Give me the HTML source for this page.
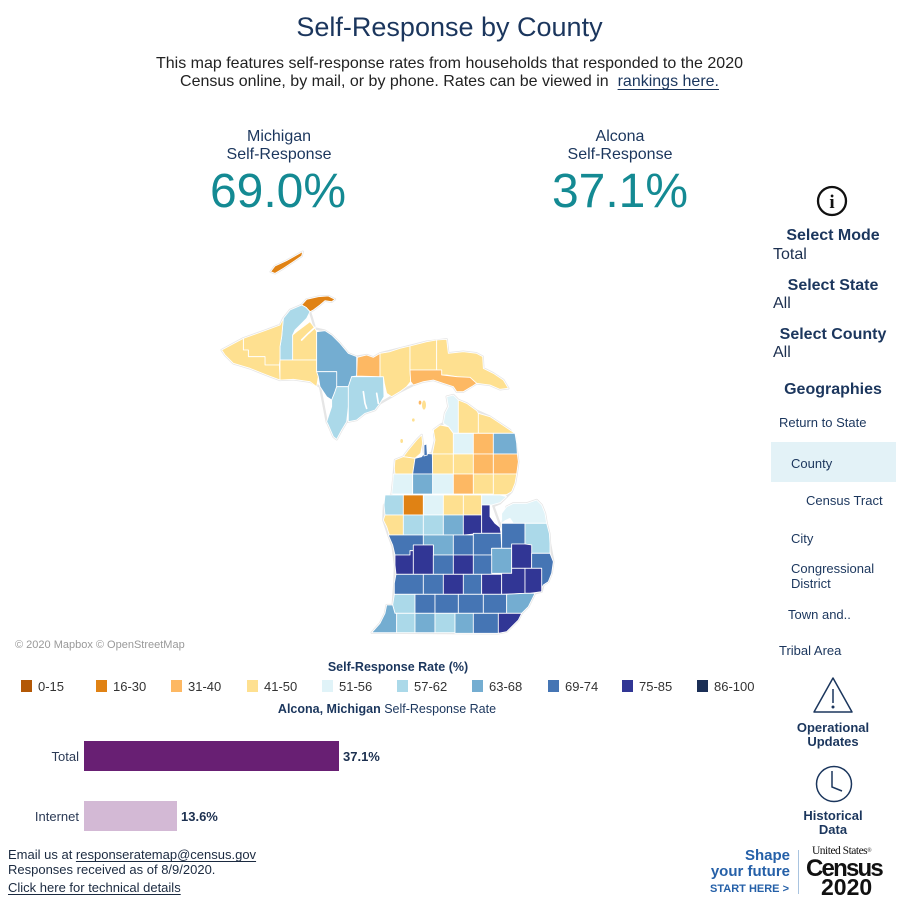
<!DOCTYPE html>
<html><head><meta charset="utf-8"><style>
html,body{margin:0;padding:0;background:#fff;}
body{width:899px;height:899px;position:relative;overflow:hidden;font-family:"Liberation Sans",Arial,sans-serif;color:#1b365d;}
.t{position:absolute;white-space:nowrap;}
.c{text-align:center;}
.lg{position:absolute;top:680px;width:11px;height:12px;}
.ll{position:absolute;top:680px;font-size:13px;line-height:13px;color:#333;}
</style></head><body>

<div class="t c" style="left:0;width:899px;top:13.8px;font-size:27px;line-height:27px;color:#1b365d;">Self-Response by County</div>
<div class="t c" style="left:0;width:899px;top:55.5px;font-size:16px;line-height:16px;color:#222;">This map features self-response rates from households that responded to the 2020</div>
<div class="t c" style="left:0;width:899px;top:74px;font-size:16px;line-height:16px;color:#222;">Census online, by mail, or by phone. Rates can be viewed in &nbsp;<span style="color:#1b365d;text-decoration:underline;text-underline-offset:3px;">rankings here.</span></div>

<div class="t c" style="left:179px;width:200px;top:128.5px;font-size:16px;line-height:16px;">Michigan</div>
<div class="t c" style="left:179px;width:200px;top:146.5px;font-size:16px;line-height:16px;">Self-Response</div>
<div class="t c" style="left:178px;width:200px;top:167.5px;font-size:48px;line-height:48px;color:#148a93;">69.0%</div>

<div class="t c" style="left:520px;width:200px;top:128.5px;font-size:16px;line-height:16px;">Alcona</div>
<div class="t c" style="left:520px;width:200px;top:146.5px;font-size:16px;line-height:16px;">Self-Response</div>
<div class="t c" style="left:520px;width:200px;top:167.5px;font-size:48px;line-height:48px;color:#148a93;">37.1%</div>

<!-- MAP -->
<svg style="position:absolute;left:200px;top:240px;" width="360" height="400" viewBox="0 0 1080 1200">
<g stroke="#e6e6e6" stroke-width="7" stroke-linejoin="round" fill="#fff">
<polygon points="212,95 225,78 260,62 290,45 308,35 305,48 280,65 250,85 225,100"/>
<polygon points="305,195 320,178 355,170 385,168 405,178 395,185 375,182 360,195 340,210 330,215 318,202"/>
<polygon points="65,330 130,295 200,270 240,255 250,235 270,210 305,195 330,215 345,265 375,272 395,285 420,310 445,340 470,350 500,345 520,352 540,340 600,325 680,305 740,298 745,340 790,335 830,340 848,350 850,385 880,400 910,420 925,445 900,448 870,435 830,430 790,455 770,455 760,440 730,430 700,420 670,425 640,435 600,455 575,470 540,490 525,510 495,520 470,540 445,545 440,545 425,570 410,598 400,590 385,555 380,545 360,440 330,425 280,418 240,420 200,405 150,385 100,370 75,345"/>
<polygon points="740,470 760,465 775,480 800,490 830,512 870,530 900,550 930,570 945,590 952,642 955,665 950,702 945,730 935,755 920,770 900,790 880,798 903,862 905,850 920,800 940,790 980,790 1010,780 1025,795 1035,820 1040,850 1048,880 1050,910 1060,965 1055,1000 1045,1025 1030,1035 1025,1055 1005,1060 995,1080 985,1100 965,1120 955,1140 935,1160 920,1175 895,1180 515,1178 540,1150 555,1120 560,1095 578,1095 583,1030 585,975 578,920 565,885 550,840 552,795 575,762 578,735 583,685 585,660 610,650 625,630 650,600 665,585 672,640 695,640 705,600 700,570 720,555 730,550 735,520 745,500"/>
</g>
<g stroke="#fff" stroke-width="2.5" stroke-linejoin="round">
<polygon fill="#e08214" points="212,95 225,78 260,62 290,45 308,35 305,48 280,65 250,85 225,100"/>
<polygon fill="#e08214" points="305,195 320,178 355,170 385,168 405,178 395,185 375,182 360,195 340,210 330,215 318,202"/>
<polygon fill="#abd9e9" points="250,235 270,210 305,195 318,202 330,215 320,235 300,255 285,270 278,285 278,360 240,360 240,320 245,290"/>
<polygon fill="#fee090" points="130,295 200,270 240,255 250,235 245,290 240,320 240,360 238,375 195,375 195,350 145,350 145,330 130,330"/>
<polygon fill="#fee090" points="65,330 130,295 130,330 145,330 145,350 195,350 195,375 238,375 240,420 200,405 150,385 100,370 75,345"/>
<polygon fill="#fee090" points="278,285 290,275 310,260 330,245 345,265 350,275 350,360 278,360"/>
<polygon fill="#fee090" points="240,360 350,360 350,395 355,410 350,440 330,425 280,418 240,420"/>
<polygon fill="#74add1" points="350,275 375,272 395,285 420,310 445,340 470,350 470,408 455,410 445,440 410,440 410,395 350,395"/>
<polygon fill="#74add1" points="350,395 410,395 410,440 405,455 395,480 380,470 360,440 355,410"/>
<polygon fill="#abd9e9" points="410,440 445,440 445,500 440,545 425,570 410,598 400,590 385,555 380,545 395,500 395,480 405,455"/>
<polygon fill="#abd9e9" points="455,410 550,410 552,470 540,490 525,510 495,520 470,540 445,545 445,440"/>
<polygon fill="#fdb863" points="472,352 500,345 520,352 540,340 540,410 470,408"/>
<polygon fill="#fee090" points="540,340 570,335 600,325 630,318 630,390 632,425 620,440 600,455 575,470 560,460 553,430 550,410 540,410"/>
<polygon fill="#fee090" points="630,318 680,305 710,300 710,390 630,390"/>
<polygon fill="#fee090" points="710,300 740,298 745,340 790,335 830,340 848,350 850,385 880,400 910,420 925,445 900,448 870,435 830,430 815,418 790,412 770,410 740,405 725,405 725,390 710,390"/>
<polygon fill="#fdb863" points="630,390 710,390 725,390 725,405 770,410 810,412 830,430 815,440 790,455 770,455 760,440 730,430 700,420 670,425 640,435 632,425"/>
<polygon fill="#e0f3f8" points="740,470 760,465 775,480 775,580 760,580 745,560 730,550 735,520 745,500"/>
<polygon fill="#fee090" points="775,480 800,490 830,512 835,520 835,580 775,580"/>
<polygon fill="#fee090" points="835,520 870,530 900,550 930,570 945,580 880,580 835,580"/>
<polygon fill="#fee090" points="700,570 720,555 745,560 760,580 760,642 697,642 705,600"/>
<polygon fill="#fee090" points="610,650 625,630 650,600 665,585 668,610 662,640 645,655"/>
<polygon fill="#e0f3f8" points="760,580 820,580 820,642 760,642"/>
<polygon fill="#fdb863" points="820,580 880,580 880,642 820,642"/>
<polygon fill="#74add1" points="880,580 945,580 950,610 952,642 880,642"/>
<polygon fill="#fee090" points="585,660 610,650 645,655 638,702 585,702 583,685"/>
<polygon fill="#4575b4" points="645,655 665,650 672,640 697,642 698,702 638,702"/>
<polygon fill="#4575b4" points="672,615 680,612 682,645 672,648"/>
<polygon fill="#fee090" points="697,642 760,642 760,702 698,702"/>
<polygon fill="#fee090" points="760,642 820,642 820,702 760,702"/>
<polygon fill="#fdb863" points="820,642 880,642 880,702 820,702"/>
<polygon fill="#fdb863" points="880,642 952,642 955,665 950,702 880,702"/>
<polygon fill="#e0f3f8" points="580,702 638,702 638,762 575,762 578,735"/>
<polygon fill="#74add1" points="638,702 698,702 698,762 638,762"/>
<polygon fill="#e0f3f8" points="698,702 760,702 760,762 698,762"/>
<polygon fill="#fdb863" points="760,702 820,702 820,762 760,762"/>
<polygon fill="#fee090" points="820,702 880,702 880,762 820,762"/>
<polygon fill="#fee090" points="880,702 950,702 945,730 935,755 920,764 880,764"/>
<polygon fill="#abd9e9" points="555,765 610,765 610,825 555,825 552,795"/>
<polygon fill="#e08214" points="610,765 670,765 670,825 610,825"/>
<polygon fill="#e0f3f8" points="670,765 730,765 730,825 670,825"/>
<polygon fill="#fee090" points="730,765 790,765 790,825 730,825"/>
<polygon fill="#fee090" points="790,765 845,765 845,825 790,825"/>
<polygon fill="#e0f3f8" points="845,765 900,765 920,770 900,788 875,795 845,795"/>
<polygon fill="#e0f3f8" points="940,790 980,790 1010,780 1025,795 1035,820 1040,850 975,850 940,850 930,835 915,842 905,850 905,820 920,800"/>
<polygon fill="#fee090" points="555,825 610,825 610,885 568,885 560,860 550,840"/>
<polygon fill="#abd9e9" points="610,825 670,825 670,885 610,885"/>
<polygon fill="#abd9e9" points="670,825 730,825 730,885 670,885"/>
<polygon fill="#74add1" points="730,825 790,825 790,885 730,885"/>
<polygon fill="#313695" points="790,825 845,825 845,880 790,885"/>
<polygon fill="#313695" points="845,795 870,795 870,830 885,850 900,862 903,880 845,880"/>
<polygon fill="#4575b4" points="905,850 975,850 975,912 935,912 935,925 905,925"/>
<polygon fill="#abd9e9" points="975,850 1040,850 1048,880 1050,910 1050,940 995,940 995,915 975,912"/>
<polygon fill="#4575b4" points="565,885 670,885 670,915 640,915 640,932 630,932 630,945 585,945 578,915"/>
<polygon fill="#74add1" points="670,885 760,885 760,945 700,945 700,915 670,915"/>
<polygon fill="#4575b4" points="760,885 820,885 820,945 760,945"/>
<polygon fill="#4575b4" points="820,880 903,880 905,925 875,925 875,945 820,945"/>
<polygon fill="#74add1" points="875,925 935,925 935,1000 875,1000 875,945"/>
<polygon fill="#313695" points="935,912 975,912 995,915 995,985 935,985"/>
<polygon fill="#4575b4" points="995,940 1050,940 1060,965 1055,1000 1045,1025 1030,1035 1025,1045 1025,985 995,985"/>
<polygon fill="#313695" points="585,945 630,945 630,932 640,932 640,1003 588,1003 585,975"/>
<polygon fill="#313695" points="640,915 700,915 700,1003 640,1003"/>
<polygon fill="#4575b4" points="700,945 760,945 760,1003 700,1003"/>
<polygon fill="#313695" points="760,945 820,945 820,1003 760,1003"/>
<polygon fill="#4575b4" points="820,945 875,945 875,1003 820,1003"/>
<polygon fill="#4575b4" points="588,1003 670,1003 670,1063 583,1063 583,1030"/>
<polygon fill="#4575b4" points="670,1003 730,1003 730,1063 670,1063"/>
<polygon fill="#313695" points="730,1003 790,1003 790,1063 730,1063"/>
<polygon fill="#4575b4" points="790,1003 845,1003 845,1063 790,1063"/>
<polygon fill="#313695" points="845,1003 905,1003 905,1063 845,1063"/>
<polygon fill="#313695" points="935,985 975,985 975,1060 905,1063 905,1000 935,1000"/>
<polygon fill="#313695" points="975,985 1025,985 1025,1055 990,1060 975,1060"/>
<polygon fill="#abd9e9" points="583,1063 645,1063 645,1120 585,1120 578,1095"/>
<polygon fill="#4575b4" points="645,1063 705,1063 705,1120 645,1120"/>
<polygon fill="#4575b4" points="705,1063 775,1063 775,1120 705,1120"/>
<polygon fill="#4575b4" points="775,1063 850,1063 850,1120 775,1120"/>
<polygon fill="#4575b4" points="850,1063 920,1063 920,1120 850,1120"/>
<polygon fill="#74add1" points="920,1063 975,1060 1005,1060 995,1080 985,1100 965,1120 920,1120"/>
<polygon fill="#74add1" points="560,1095 578,1095 585,1120 590,1120 590,1178 515,1178 540,1150 555,1120"/>
<polygon fill="#abd9e9" points="590,1120 645,1120 645,1178 590,1178"/>
<polygon fill="#74add1" points="645,1120 705,1120 705,1178 645,1178"/>
<polygon fill="#abd9e9" points="705,1120 765,1120 765,1178 705,1178"/>
<polygon fill="#74add1" points="765,1120 820,1120 820,1180 765,1180"/>
<polygon fill="#4575b4" points="820,1120 895,1120 895,1180 820,1180"/>
<polygon fill="#313695" points="895,1120 965,1120 955,1140 935,1160 920,1175 895,1180"/>
</g>
<g stroke="#fff" stroke-width="5" fill="none" stroke-linecap="round">
<polyline points="345,262 325,280 305,300"/>
<polyline points="490,455 495,490 500,505"/>
<polyline points="530,460 535,490"/>
<polyline points="700,570 690,600 685,640"/>
</g>
<ellipse cx="672" cy="495" rx="7" ry="15" fill="#fee090" stroke="#fff" stroke-width="2"/>
<ellipse cx="660" cy="488" rx="4" ry="6" fill="#fdb863"/>
<ellipse cx="605" cy="603" rx="4" ry="6" fill="#fee090"/>
<ellipse cx="640" cy="540" rx="4" ry="5" fill="#fee090"/>
</svg>

<div class="t" style="left:15px;top:639.5px;font-size:11px;line-height:11px;color:#999;">© 2020 Mapbox © OpenStreetMap</div>

<div class="t c" style="left:298px;width:200px;top:661px;font-size:12.5px;line-height:12.5px;font-weight:bold;">Self-Response Rate (%)</div>
<div class="lg" style="left:21px;background:#b35806"></div><div class="ll" style="left:38px">0-15</div>
<div class="lg" style="left:96px;background:#e08214"></div><div class="ll" style="left:113px">16-30</div>
<div class="lg" style="left:171px;background:#fdb863"></div><div class="ll" style="left:188px">31-40</div>
<div class="lg" style="left:247px;background:#fee090"></div><div class="ll" style="left:264px">41-50</div>
<div class="lg" style="left:322px;background:#e0f3f8"></div><div class="ll" style="left:339px">51-56</div>
<div class="lg" style="left:397px;background:#abd9e9"></div><div class="ll" style="left:414px">57-62</div>
<div class="lg" style="left:472px;background:#74add1"></div><div class="ll" style="left:489px">63-68</div>
<div class="lg" style="left:548px;background:#4575b4"></div><div class="ll" style="left:565px">69-74</div>
<div class="lg" style="left:622px;background:#313695"></div><div class="ll" style="left:639px">75-85</div>
<div class="lg" style="left:697px;background:#1b2f56"></div><div class="ll" style="left:714px">86-100</div>

<div class="t c" style="left:187px;width:400px;top:702.7px;font-size:12.5px;line-height:12.5px;color:#1b365d;"><b>Alcona, Michigan</b> Self-Response Rate</div>

<div class="t" style="left:0;width:79px;text-align:right;top:749.7px;font-size:13px;line-height:13px;color:#2b3a55;">Total</div>
<div style="position:absolute;left:84px;top:741px;width:255px;height:30px;background:#681f73;"></div>
<div class="t" style="left:343px;top:749.5px;font-size:13px;line-height:13px;font-weight:bold;color:#1b2f4f;">37.1%</div>
<div class="t" style="left:0;width:79px;text-align:right;top:809.7px;font-size:13px;line-height:13px;color:#2b3a55;">Internet</div>
<div style="position:absolute;left:84px;top:801px;width:93px;height:30px;background:#d3b9d5;"></div>
<div class="t" style="left:181px;top:809.5px;font-size:13px;line-height:13px;font-weight:bold;color:#1b2f4f;">13.6%</div>

<div class="t" style="left:8px;top:848.3px;font-size:13px;line-height:13px;color:#1b2a40;">Email us at <span style="text-decoration:underline;text-underline-offset:2px;">responseratemap@census.gov</span></div>
<div class="t" style="left:8px;top:863px;font-size:13px;line-height:13px;color:#1b2a40;">Responses received as of 8/9/2020.</div>
<div class="t" style="left:8px;top:880.7px;font-size:13px;line-height:13px;color:#1b2a40;text-decoration:underline;text-underline-offset:2px;">Click here for technical details</div>

<svg style="position:absolute;left:810px;top:178px;" width="46" height="46" viewBox="0 0 46 46">
<circle cx="22" cy="23" r="14" fill="none" stroke="#111" stroke-width="2.3"/>
<text x="22" y="30" text-anchor="middle" font-family="Liberation Serif, serif" font-weight="bold" font-size="19" fill="#111">i</text>
</svg>
<div class="t c" style="left:768px;width:130px;top:228.2px;font-size:16px;line-height:16px;font-weight:bold;">Select Mode</div>
<div class="t" style="left:773px;top:246.5px;font-size:16px;line-height:16px;color:#1c2f4f;">Total</div>
<div class="t c" style="left:768px;width:130px;top:277.5px;font-size:16px;line-height:16px;font-weight:bold;">Select State</div>
<div class="t" style="left:773px;top:295.5px;font-size:16px;line-height:16px;color:#1c2f4f;">All</div>
<div class="t c" style="left:768px;width:130px;top:326.5px;font-size:16px;line-height:16px;font-weight:bold;">Select County</div>
<div class="t" style="left:773px;top:344.5px;font-size:16px;line-height:16px;color:#1c2f4f;">All</div>
<div class="t c" style="left:768px;width:130px;top:381.5px;font-size:16px;line-height:16px;font-weight:bold;">Geographies</div>

<div class="t" style="left:779px;top:415.5px;font-size:13px;line-height:13px;">Return to State</div>
<div style="position:absolute;left:771px;top:442px;width:125px;height:40px;background:#e3f2f7;"></div>
<div class="t" style="left:791px;top:456.5px;font-size:13px;line-height:13px;">County</div>
<div class="t" style="left:806px;top:493.5px;font-size:13px;line-height:13px;">Census Tract</div>
<div class="t" style="left:791px;top:531.5px;font-size:13px;line-height:13px;">City</div>
<div class="t" style="left:791px;top:561.5px;font-size:13px;line-height:13px;">Congressional</div>
<div class="t" style="left:791px;top:576.5px;font-size:13px;line-height:13px;">District</div>
<div class="t" style="left:788px;top:607.5px;font-size:13px;line-height:13px;">Town and..</div>
<div class="t" style="left:779px;top:643.5px;font-size:13px;line-height:13px;">Tribal Area</div>

<svg style="position:absolute;left:810px;top:674px;" width="46" height="42" viewBox="0 0 46 42">
<polygon points="23,4 4,38 42,38" fill="none" stroke="#1b365d" stroke-width="1.5" stroke-linejoin="round"/>
<line x1="23" y1="15" x2="23" y2="29" stroke="#1b365d" stroke-width="1.5"/>
<circle cx="23" cy="33" r="1.5" fill="#1b365d"/>
</svg>
<div class="t c" style="left:768px;width:130px;top:720.7px;font-size:13px;line-height:13px;font-weight:bold;">Operational</div>
<div class="t c" style="left:768px;width:130px;top:735px;font-size:13px;line-height:13px;font-weight:bold;">Updates</div>

<svg style="position:absolute;left:812px;top:762px;" width="44" height="44" viewBox="0 0 44 44">
<circle cx="22" cy="22" r="17.5" fill="none" stroke="#1b365d" stroke-width="1.5"/>
<polyline points="20,9 20,25 30,29" fill="none" stroke="#1b365d" stroke-width="1.5"/>
</svg>
<div class="t c" style="left:768px;width:130px;top:809px;font-size:13px;line-height:13px;font-weight:bold;">Historical</div>
<div class="t c" style="left:768px;width:130px;top:823.3px;font-size:13px;line-height:13px;font-weight:bold;">Data</div>

<div class="t" style="left:690px;width:100px;text-align:right;top:848px;font-size:15px;line-height:15px;font-weight:bold;color:#2560a8;">Shape</div>
<div class="t" style="left:690px;width:100px;text-align:right;top:864px;font-size:15px;line-height:15px;font-weight:bold;color:#2560a8;">your future</div>
<div class="t" style="left:690px;width:99px;text-align:right;top:883.7px;font-size:11px;line-height:11px;font-weight:bold;color:#2560a8;">START HERE &gt;</div>
<div style="position:absolute;left:798px;top:850px;width:1px;height:44px;background:#a9c4e0;"></div>
<div class="t" style="left:812px;top:846px;font-family:'Liberation Serif',serif;font-size:11.5px;line-height:11.5px;letter-spacing:-0.5px;color:#111;">United States<span style="font-size:6px;vertical-align:top;">®</span></div>
<div class="t" style="left:806px;top:857px;font-size:24px;line-height:24px;font-weight:bold;letter-spacing:-1.8px;color:#111;">Census</div>
<div class="t" style="left:821px;top:875.5px;font-size:23px;line-height:23px;font-weight:bold;color:#111;">2020</div>

</body></html>
